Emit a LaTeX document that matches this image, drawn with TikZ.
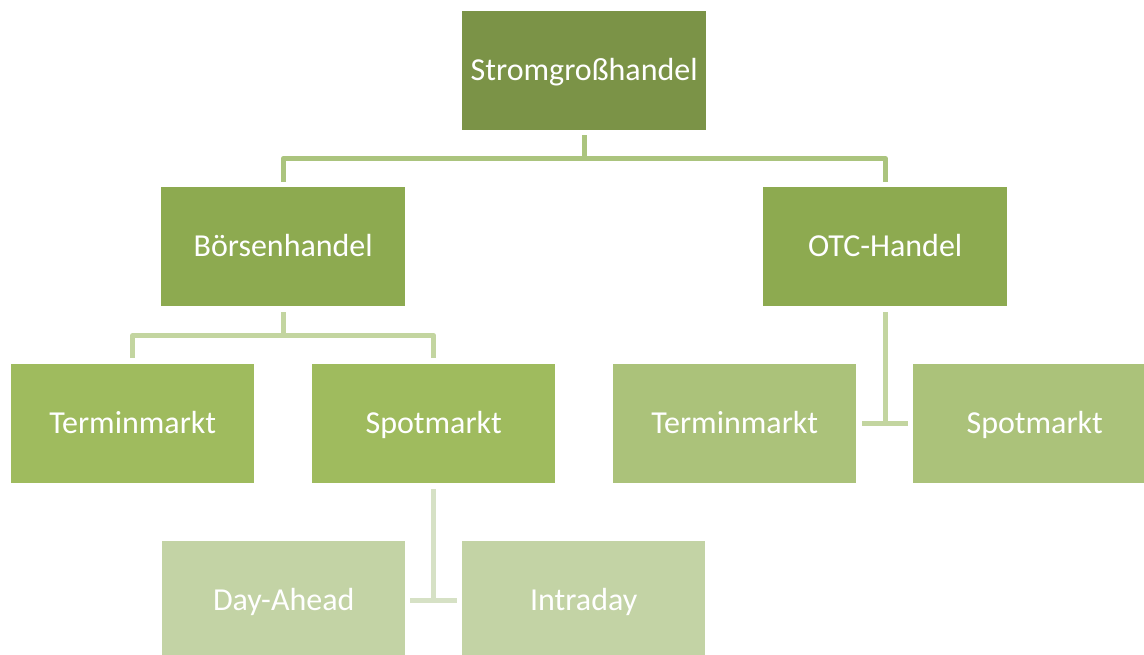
\documentclass[tikz,border=0pt]{standalone}
\usepackage{fontspec}
\setmainfont{Carlito}
\usetikzlibrary{calc}
\definecolor{cA}{HTML}{7B9347}
\definecolor{cB}{HTML}{8DAA50}
\definecolor{cC}{HTML}{9FBB5E}
\definecolor{cD}{HTML}{ABC27A}
\definecolor{cE}{HTML}{C3D3A5}
\definecolor{lA}{HTML}{ABC47E}
\definecolor{lB}{HTML}{C3D5A0}
\definecolor{lC}{HTML}{D6E1C5}
\tikzset{
  box/.style={anchor=north west, minimum width=244pt, minimum height=119pt, inner sep=0pt,
    text=white, font=\fontsize{32}{36}\selectfont, text height=19.5pt, text depth=0pt},
  conn/.style={line width=5pt, line join=round}
}
\begin{document}
\begin{tikzpicture}[x=1pt,y=1pt]
\useasboundingbox (0,0) rectangle (1144,-655);
\clip (0,0) rectangle (1144,-655);
\node[box, fill=cA] (s) at (462,-11) {Stromgroßhandel};
\node[box, fill=cB] (b) at (161,-187) {Börsenhandel};
\node[box, fill=cB] (o) at (763,-187) {OTC-Handel};
\node[box, fill=cC, minimum width=243pt] (tl) at (11,-364) {Terminmarkt};
\node[box, fill=cC, minimum width=243pt] (sl) at (312,-364) {Spotmarkt};
\node[box, fill=cD, minimum width=243pt] (tr) at (613,-364) {Terminmarkt};
\node[box, fill=cD, minimum width=243pt] (sr) at (913,-364) {Spotmarkt};
\node[box, fill=cE, minimum width=243pt] (da) at (162,-541) {Day-Ahead};
\node[box, fill=cE, minimum width=243pt] (id) at (462,-541) {Intraday};
% connectors
\draw[conn, lA] ([yshift=-5pt]s.south) -- ++(0,-23) coordinate (h1);
\draw[conn, lA] ([yshift=5pt]b.north) |- (h1) -| ([yshift=5pt]o.north);
\draw[conn, lB] ([yshift=-6pt]b.south) -- ++(0,-23) coordinate (h2);
\draw[conn, lB] ([yshift=6pt]tl.north) |- (h2) -| ([yshift=6pt]sl.north);
\draw[conn, lB] ([yshift=-6pt]o.south) -- (o.south |- tr.east);
\draw[conn, lB] ([xshift=6pt]tr.east) -- ([xshift=-5pt]sr.west);
\draw[conn, lC] ([yshift=-6pt]sl.south) -- (sl.south |- da.east);
\draw[conn, lC] ([xshift=5pt]da.east) -- ([xshift=-5pt]id.west);
\end{tikzpicture}
\end{document}
